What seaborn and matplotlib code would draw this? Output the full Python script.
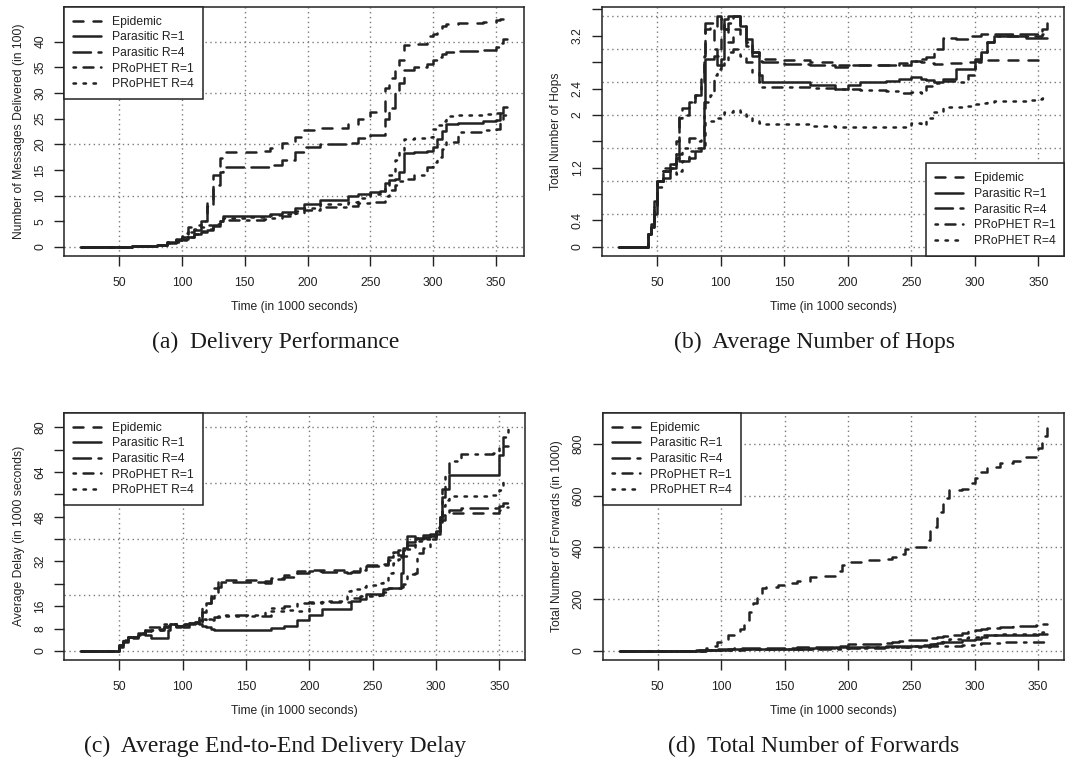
import matplotlib
matplotlib.use("Agg")
import matplotlib.pyplot as plt
import seaborn as sns
import pandas as pd

series_names = ["Epidemic", "Parasitic R=1", "Parasitic R=4", "PRoPHET R=1", "PRoPHET R=4"]

# (a) delivery performance, messages delivered (in 100)
time_a = [20, 60, 80, 88, 95, 100, 105, 110, 115, 120, 125, 130, 133, 150, 165, 170, 180, 190, 197, 210,
          232, 240, 250, 258, 262, 265, 270, 273, 277, 285, 295, 300, 303, 307, 310, 320, 340, 350, 353, 356, 359]
a_epidemic = [0, 0.1, 0.3, 0.8, 1.5, 2.7, 3.8, 4.3, 5, 9, 14, 17.3, 18.5, 18.5, 18.6, 19.2, 20.2, 21.5, 22.8, 23.1,
              24, 25, 26.3, 26.5, 31, 33, 35.5, 36.5, 39.4, 39.6, 41, 41.5, 42, 43, 43.5, 43.6, 43.8, 44.2, 44.5, 45, 45]
a_para1 = [0, 0.1, 0.3, 0.9, 1.3, 1.5, 2, 2.5, 2.8, 3.2, 4, 5, 6, 6, 6.1, 6.3, 6.7, 7.5, 8.3, 9.2,
           10, 10.2, 10.6, 10.8, 12.5, 13, 13.2, 14.5, 18.3, 18.4, 18.6, 19.5, 21, 22.5, 24, 24.2, 24.6, 24.8, 26, 27.3, 27.3]
a_para4 = [0, 0.1, 0.3, 0.8, 1.3, 2, 2.8, 3.2, 5, 8, 12, 14.5, 15.5, 15.5, 15.6, 16, 17, 18.5, 19.5, 20,
           20.3, 21.3, 21.7, 21.8, 25, 27, 30, 32, 34.5, 35, 35.6, 36.4, 37, 37.6, 38, 38.2, 38.4, 39, 39.8, 40.5, 40.5]
a_prophet1 = [0, 0.1, 0.3, 0.7, 1, 1.3, 1.9, 2.5, 3, 3.5, 4.2, 5, 5.2, 5.3, 5.4, 5.6, 6, 6.6, 7.2, 7.8,
              8, 8.5, 8.7, 8.8, 10, 11, 12, 12.8, 13.2, 14, 15.5, 16.5, 17.5, 19, 20.5, 22.3, 22.8, 23, 24.4, 25.8, 25.8]
a_prophet4 = [0, 0.1, 0.3, 1, 1.8, 2.2, 3, 3.5, 3.8, 4.2, 4.5, 5.3, 5.6, 5.8, 6, 6.2, 6.4, 7, 7.6, 8.3,
              8.8, 9.6, 10.3, 10.6, 12, 14, 17, 18.5, 21, 21.2, 21.5, 23, 23.8, 24.5, 25.5, 25.6, 25.8, 26, 26.3, 25.7, 25.7]

# (b) average number of hops
time_b = [20, 43, 45, 48, 50, 55, 60, 65, 67, 70, 75, 80, 85, 87, 88, 92, 95, 97, 100, 103, 106, 110, 115, 120,
          125, 130, 133, 150, 170, 190, 200, 210, 230, 240, 250, 258, 262, 268, 275, 285, 295, 300, 305, 310,
          315, 340, 350, 353, 357]
b_epidemic = [0, 0.2, 0.3, 0.6, 1.0, 1.15, 1.2, 1.6, 2.0, 2.1, 2.2, 2.3, 2.6, 2.9, 3.3, 3.35, 3.0, 2.9, 3.45,
              3.3, 3.1, 3.3, 3.2, 3.05, 2.9, 2.87, 2.85, 2.83, 2.8, 2.76, 2.76, 2.76, 2.75, 2.78, 2.82, 2.8,
              2.78, 2.77, 2.78, 2.78, 2.8, 2.82, 2.84, 2.84, 2.84, 2.84, 2.84, 2.84, 2.84]
b_para1 = [0, 0.2, 0.3, 0.5, 1.0, 1.05, 1.2, 1.35, 1.3, 1.3, 1.35, 1.45, 1.5, 2.2, 2.85, 2.85, 2.9, 2.75, 2.85,
           3.45, 3.5, 3.5, 3.35, 3.15, 2.95, 2.6, 2.5, 2.5, 2.45, 2.4, 2.45, 2.5, 2.52, 2.55, 2.57, 2.55,
           2.53, 2.5, 2.55, 2.7, 2.7, 2.85, 2.95, 3.1, 3.2, 3.17, 3.17, 3.17, 3.17]
b_para4 = [0, 0.2, 0.35, 0.7, 1.0, 1.2, 1.25, 1.4, 1.95, 2.0, 2.2, 2.3, 2.45, 2.9, 3.4, 3.4, 3.35, 3.5, 3.45,
           3.3, 3.4, 3.5, 3.35, 3.1, 2.95, 2.82, 2.8, 2.77, 2.76, 2.73, 2.75, 2.75, 2.75, 2.76, 2.82, 2.85,
           2.88, 3.0, 3.17, 3.15, 3.2, 3.2, 3.22, 3.22, 3.22, 3.22, 3.23, 3.3, 3.4]
b_prophet1 = [0, 0.2, 0.3, 0.6, 1.0, 1.15, 1.25, 1.35, 1.4, 1.5, 1.65, 1.6, 1.65, 2.1, 2.2, 2.3, 2.6, 2.7, 2.75,
              2.78, 2.95, 3.0, 2.9, 2.8, 2.65, 2.5, 2.42, 2.42, 2.41, 2.4, 2.4, 2.38, 2.37, 2.33, 2.34, 2.33,
              2.44, 2.48, 2.52, 2.5, 2.6, 2.8, 2.95, 3.1, 3.2, 3.2, 3.2, 3.22, 3.25]
b_prophet4 = [0, 0.2, 0.3, 0.6, 0.9, 1.15, 1.2, 1.1, 1.15, 1.3, 1.45, 1.5, 1.5, 1.5, 1.9, 1.9, 1.9, 1.95, 2.0,
              2.05, 2.05, 2.08, 2.05, 1.98, 1.9, 1.87, 1.86, 1.86, 1.83, 1.82, 1.82, 1.82, 1.81, 1.82, 1.87,
              1.85, 1.95, 2.05, 2.12, 2.12, 2.14, 2.17, 2.18, 2.2, 2.21, 2.23, 2.24, 2.25, 2.28]

# (c) average end-to-end delay (in 1000 s)
time_c = [20, 48, 50, 53, 57, 65, 70, 75, 85, 88, 90, 95, 100, 105, 110, 113, 115, 118, 122, 125, 128, 130,
          150, 165, 170, 180, 190, 200, 210, 230, 233, 240, 245, 255, 258, 262, 266, 270, 272, 274, 277, 283,
          285, 290, 295, 300, 303, 305, 307, 310, 320, 345, 350, 353, 357]
c_epidemic = [0, 0, 2, 4, 5, 6, 7.5, 8, 9, 9.2, 9.5, 9, 9.5, 10, 10.5, 11, 14, 17, 19.5, 22.5, 24.5, 25.3,
              25.3, 25, 26, 27.3, 28.5, 29, 28.8, 28.5, 28.6, 29.5, 30.8, 31.5, 31, 32.5, 35.5, 36, 36.5, 37,
              38, 40, 40, 40.5, 41, 43, 45, 47, 48.5, 49.3, 49.3, 49.4, 50.5, 51.5, 51.5]
c_para1 = [0, 0, 1.5, 3, 5, 6.5, 5.5, 4.7, 4.7, 7.5, 9.5, 9, 8.5, 9.5, 10, 9.5, 9, 8.5, 7.9, 7.6, 7.4, 7.4,
           7.4, 7.4, 8.3, 9, 11, 13, 15, 15, 18, 18.5, 20.5, 20.5, 22.3, 22.4, 22.4, 22.5, 28, 37, 41,
           40.5, 40.5, 40.7, 41, 42, 48, 55, 58, 62.8, 62.8, 62.8, 70, 73.5, 73.5]
c_para4 = [0, 0, 2, 3.5, 5, 6, 7, 7.5, 8.5, 9, 9.5, 9, 9.3, 10, 10.5, 11, 16.5, 17, 19, 21, 23, 24.6,
           24.5, 24.2, 25.8, 26.5, 28, 28.5, 28.2, 28, 28.2, 29, 30.5, 30.5, 30.8, 33.5, 35, 34.5, 33.5, 36,
           39, 40, 40.5, 41.5, 42, 44.4, 46.5, 48.5, 49.5, 50.5, 51, 51.2, 52, 53, 53]
c_prophet1 = [0, 0, 2, 4, 4.5, 5.5, 8.5, 8.5, 9.5, 9.5, 9.5, 8.5, 9.5, 10, 10.5, 12, 11.3, 11, 11, 12, 12.5, 13,
              12.5, 12.5, 15.5, 16, 17, 17.5, 17.5, 17.5, 19, 19.5, 19.5, 20, 21, 22.5, 22.5, 22.5, 23, 24,
              27.5, 28, 35, 37, 40, 44, 48, 58, 62.5, 68, 70.5, 71, 73, 76.5, 82]
c_prophet4 = [0, 0, 2, 4, 5, 6.5, 7, 7.5, 8.5, 9, 9, 9.5, 9.5, 10, 10, 10.5, 11, 11.3, 11.5, 12, 12.3, 12.5,
              13, 14, 14.3, 14.5, 14.2, 17, 17.8, 21.5, 22, 23, 23.6, 24.3, 24.5, 28, 31.5, 33, 33.5, 34,
              36.5, 39, 39.5, 40, 41, 43, 48, 52, 54, 55.5, 55.6, 55.7, 57.5, 60.4, 60.4]

# (d) total number of forwards (in 1000)
time_d = [20, 70, 80, 88, 93, 97, 100, 105, 110, 115, 118, 122, 125, 128, 132, 135, 145, 150, 160, 170, 180,
          190, 195, 200, 210, 230, 235, 240, 245, 250, 260, 262, 265, 270, 275, 280, 290, 295, 300, 305, 310,
          320, 330, 340, 348, 350, 353, 357]
d_epidemic = [0, 1, 5, 10, 20, 35, 44, 60, 75, 85, 110, 150, 186, 209, 241, 248, 255, 261, 270, 285, 290,
              310, 330, 345, 350, 355, 362, 374, 395, 400, 402, 430, 480, 538, 590, 622, 625, 650, 667, 690,
              710, 725, 735, 750, 775, 785, 830, 885]
d_para1 = [0, 0, 1, 2, 3, 4, 5, 5.5, 6, 6.5, 7, 7, 7.5, 7.5, 8, 8, 8, 8, 9, 10, 11, 13, 14, 15, 16, 18, 18.5,
           19, 19.5, 20, 21, 22, 25, 30, 33, 36, 40, 42, 45, 55, 62, 62.5, 63, 63, 63, 63.5, 64, 64]
d_para4 = [0, 0, 2, 3, 5, 7, 8, 9, 10, 10, 10.5, 11, 11, 11.5, 12, 12, 12, 12.5, 13, 14, 15, 18, 20, 25, 27,
           30, 33, 38, 40, 40, 42, 45, 50, 55, 58, 62, 70, 75, 80, 85, 90, 92, 95, 96, 98, 99, 102, 103]
d_prophet1 = [0, 0, 1, 2, 2.5, 3, 4, 4.5, 5, 5, 5.5, 5.5, 6, 6, 6, 6, 6, 6, 7, 7.5, 8, 9, 9.5, 10, 11, 13, 13,
              14, 14, 15, 15, 16, 17, 18, 19, 20, 22, 23, 25, 30, 32, 33, 34, 34, 34.5, 35, 35, 35]
d_prophet4 = [0, 0, 1, 2, 3, 3.5, 4, 4.5, 5, 5.5, 6, 6, 6.5, 6.5, 7, 7, 7.5, 8, 8.5, 9, 10, 11, 11.5, 12, 13,
              14, 15, 15.5, 16, 18, 20, 22, 28, 35, 40, 45, 50, 52, 55, 60, 62, 64, 66, 67, 68, 70, 74, 75]

x_ticks = [50, 100, 150, 200, 250, 300, 350]

panels = [
    dict(t=time_a, ys=[a_epidemic, a_para1, a_para4, a_prophet1, a_prophet4],
         ylabel="Number of Messages Delivered (in 100)",
         yticks=[0, 5, 10, 15, 20, 25, 30, 35, 40],
         ylabels=["0", "5", "10", "15", "20", "25", "30", "35", "40"],
         ygrid=[0, 10, 20, 30, 40], legend="upper left",
         caption="(a)  Delivery Performance"),
    dict(t=time_b, ys=[b_epidemic, b_para1, b_para4, b_prophet1, b_prophet4],
         ylabel="Total Number of Hops",
         yticks=[0, 0.4, 0.8, 1.2, 1.6, 2.0, 2.4, 2.8, 3.2, 3.6],
         ylabels=["0", "0.4", "", "1.2", "", "2", "2.4", "", "3.2", ""],
         ygrid=[0, 0.5, 1, 1.5, 2, 2.5, 3, 3.5], legend="lower right",
         caption="(b)  Average Number of Hops"),
    dict(t=time_c, ys=[c_epidemic, c_para1, c_para4, c_prophet1, c_prophet4],
         ylabel="Average Delay (in 1000 seconds)",
         yticks=[0, 8, 16, 24, 32, 40, 48, 56, 64, 72, 80],
         ylabels=["0", "8", "16", "", "32", "", "48", "", "64", "", "80"],
         ygrid=[0, 20, 40, 60, 80], legend="upper left",
         caption="(c)  Average End-to-End Delivery Delay"),
    dict(t=time_d, ys=[d_epidemic, d_para1, d_para4, d_prophet1, d_prophet4],
         ylabel="Total Number of Forwards (in 1000)",
         yticks=[0, 200, 400, 600, 800],
         ylabels=["0", "200", "400", "600", "800"],
         ygrid=[0, 200, 400, 600, 800], legend="upper left",
         caption="(d)  Total Number of Forwards"),
]

# R style line types: lty 2, 1, 5 (longdash), 4 (dotdash), 3 (dotted)
dash_map = {
    "Epidemic": (4, 4),
    "Parasitic R=1": "",
    "Parasitic R=4": (7, 3),
    "PRoPHET R=1": (1, 3, 4, 3),
    "PRoPHET R=4": (1, 3),
}

sns.set_style("ticks")
plt.rcParams["font.family"] = ["Liberation Sans", "DejaVu Sans"]
ink = "#222222"
grid_col = "#7a7a7a"
grid_ls = (0, (1, 2.5))

fig = plt.figure(figsize=(10.65, 7.67), dpi=100)
boxes = [
    [0.0604, 0.6662, 0.4319, 0.3250],
    [0.5650, 0.6662, 0.4344, 0.3250],
    [0.0604, 0.1395, 0.4329, 0.3224],
    [0.5659, 0.1395, 0.4333, 0.3224],
]
caption_pos = [(0.259, 0.553), (0.765, 0.553), (0.258, 0.027), (0.764, 0.027)]

for p, box, cpos in zip(panels, boxes, caption_pos):
    ax = fig.add_axes(box)
    frames = []
    for name, vals in zip(series_names, p["ys"]):
        frames.append(pd.DataFrame({"time": p["t"], "value": vals, "series": name}))
    df = pd.concat(frames, ignore_index=True)

    sns.lineplot(data=df, x="time", y="value", style="series", style_order=series_names,
                 dashes=dash_map, color=ink, linewidth=1.8, drawstyle="steps-post",
                 dash_capstyle="round", estimator=None, legend=False, ax=ax, zorder=3)
    handles = list(ax.lines[:5])

    # R default axis ranges (4% padding)
    tmin, tmax = min(p["t"]), max(p["t"])
    tr = tmax - tmin
    ax.set_xlim(tmin - 0.04 * tr, tmax + 0.04 * tr)
    vmax = df["value"].max()
    ax.set_ylim(-0.04 * vmax, vmax * 1.04)

    ax.set_xticks(x_ticks)
    ax.set_xticklabels([str(v) for v in x_ticks])
    ax.set_yticks(p["yticks"])
    ax.set_yticklabels(p["ylabels"], rotation=90, va="center")
    ax.tick_params(axis="both", which="major", length=7, width=1, color=ink,
                   labelsize=8.7, labelcolor=ink)
    ax.tick_params(axis="x", pad=8)
    ax.tick_params(axis="y", pad=6)

    # dotted reference grid, as R's grid()
    ax.grid(False)
    for gx in x_ticks:
        ax.axvline(gx, color=grid_col, linestyle=grid_ls, linewidth=1, zorder=1)
    for gy in p["ygrid"]:
        ax.axhline(gy, color=grid_col, linestyle=grid_ls, linewidth=1, zorder=1)

    for s in ax.spines.values():
        s.set_visible(True)
        s.set_color(ink)
        s.set_linewidth(1.1)

    ax.set_xlabel("Time (in 1000 seconds)", fontsize=8.7, color=ink, labelpad=9)
    ax.set_ylabel(p["ylabel"], fontsize=8.7, color=ink, labelpad=7)

    leg = ax.legend(handles, series_names, loc=p["legend"], borderaxespad=0,
                    fancybox=False, framealpha=1, edgecolor=ink, fontsize=8.7,
                    handlelength=2.3, handletextpad=0.9, labelspacing=0.3, borderpad=0.75)
    leg.get_frame().set_linewidth(1.1)
    leg.set_zorder(5)
    for txt in leg.get_texts():
        txt.set_color(ink)

    fig.text(cpos[0], cpos[1], p["caption"], ha="center", va="center",
             fontsize=17, family=["Liberation Serif", "DejaVu Serif"], color="#1a1a1a")

fig.savefig("out.png", dpi=100, facecolor="white")
